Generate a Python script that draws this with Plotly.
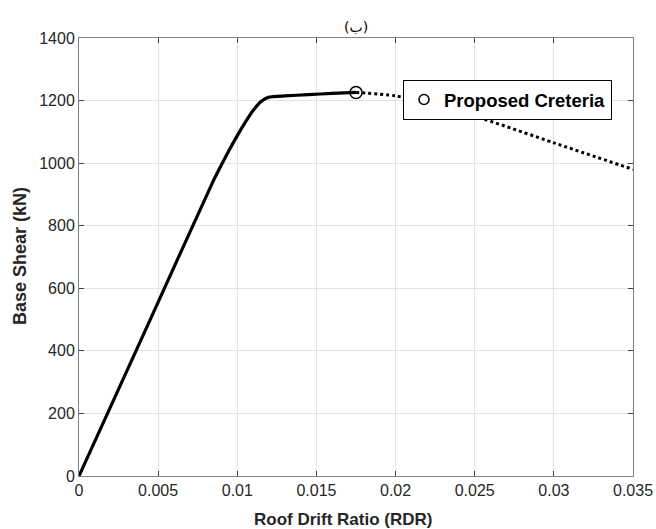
import plotly.graph_objects as go

# Data
rdr_solid = [0, 0.0045, 0.0085, 0.0090, 0.0095, 0.0100, 0.0105, 0.0110, 0.0115, 0.0120, 0.0130, 0.0145, 0.0160, 0.0175]
shear_solid = [0, 500, 945, 995, 1043, 1088, 1130, 1168, 1197, 1211, 1215, 1219, 1223, 1226]
rdr_dot = [0.0175, 0.0200, 0.0250, 0.0300, 0.0350]
shear_dot = [1226, 1215, 1150, 1065, 980]
criteria_x = [0.0175]
criteria_y = [1226]
x_ticks = [0, 0.005, 0.01, 0.015, 0.02, 0.025, 0.03, 0.035]
x_tick_labels = ["0", "0.005", "0.01", "0.015", "0.02", "0.025", "0.03", "0.035"]
y_ticks = [0, 200, 400, 600, 800, 1000, 1200, 1400]

FONT = "Liberation Sans, Arial, Helvetica"
W, H = 656, 529
L, T = 79, 38
PW, PH = 554, 438
R, B = W - L - PW, H - T - PH


def px_x(p):
    return (p - L) / PW


def px_y(p):
    return (T + PH - p) / PH


fig = go.Figure()
fig.add_trace(go.Scatter(x=rdr_solid, y=shear_solid, mode="lines",
                         line=dict(color="black", width=3.2, shape="spline", smoothing=0.5),
                         showlegend=False))
fig.add_trace(go.Scatter(x=rdr_dot, y=shear_dot, mode="lines",
                         line=dict(color="black", width=3, dash="dot", shape="spline", smoothing=0.6),
                         showlegend=False))
fig.add_trace(go.Scatter(x=criteria_x, y=criteria_y, mode="markers",
                         marker=dict(symbol="circle-open", size=12, color="black", line=dict(width=1.5)),
                         showlegend=False))
fig.add_trace(go.Scatter(x=[None], y=[None], mode="markers", name="<b>Proposed Creteria</b>",
                         marker=dict(symbol="circle-open", size=10, color="black", line=dict(width=1.5))))

axis_common = dict(showline=True, linecolor="#808080", linewidth=1, mirror="ticks",
                   ticks="inside", ticklen=5, tickcolor="#404040", automargin=False,
                   showgrid=True, gridcolor="#e3e3e3", gridwidth=1, zeroline=False,
                   tickfont=dict(family=FONT, size=16, color="#262626"))

fig.update_xaxes(range=[0, 0.035], tickvals=x_ticks, ticktext=x_tick_labels, **axis_common)
fig.update_yaxes(range=[0, 1400], tickvals=y_ticks, **axis_common)

fig.add_annotation(text="<b>Roof Drift Ratio (RDR)</b>", xref="paper", yref="paper",
                   x=px_x(343), y=px_y(519), xanchor="center", yanchor="middle",
                   showarrow=False, font=dict(family=FONT, size=17, color="#262626"))
fig.add_annotation(text="<b>Base Shear (kN)</b>", xref="paper", yref="paper", textangle=-90,
                   x=px_x(20), y=px_y(256), xanchor="center", yanchor="middle",
                   showarrow=False, font=dict(family=FONT, size=18, color="#262626"))
fig.add_annotation(text="(ب)", xref="paper", yref="paper",
                   x=px_x(356), y=px_y(27), xanchor="center", yanchor="middle",
                   showarrow=False, font=dict(family="DejaVu Sans, Liberation Sans", size=14, color="black"))

fig.update_layout(
    width=W, height=H,
    margin=dict(l=L, r=R, t=T, b=B),
    paper_bgcolor="white", plot_bgcolor="white",
    legend=dict(x=px_x(403), y=px_y(80), xanchor="left", yanchor="top",
                bgcolor="white", bordercolor="black", borderwidth=1,
                font=dict(family=FONT, size=18.5, color="black"),
                itemwidth=30),
)

fig.write_html(
    "out.html",
    config={"displayModeBar": False},
    post_script="document.body.style.margin='0';document.body.style.overflow='hidden';"
                "document.documentElement.style.overflow='hidden';",
)
